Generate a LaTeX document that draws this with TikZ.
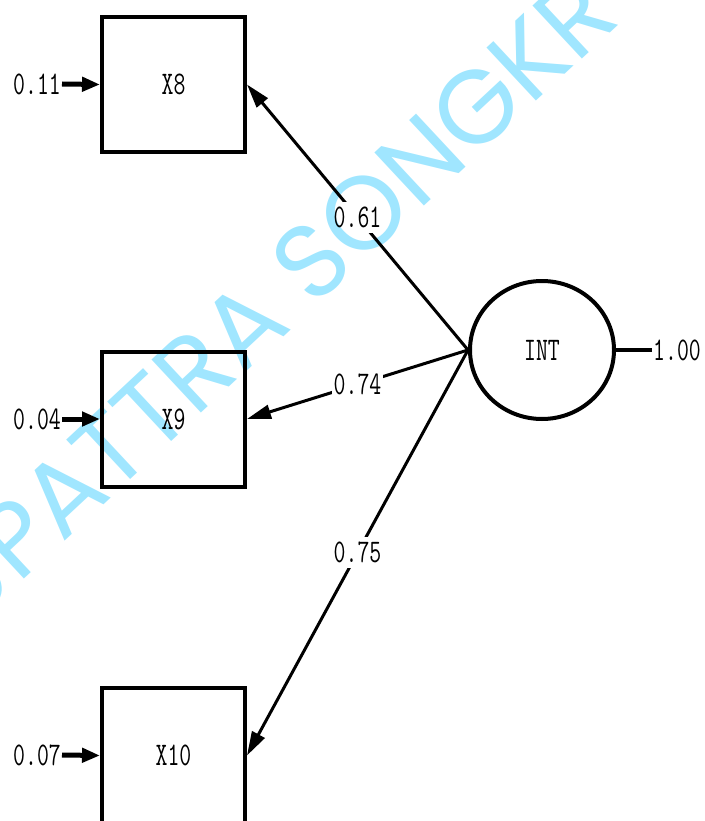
\documentclass[tikz,border=0pt]{standalone}
\usepackage{fontspec}
\newfontfamily\labfont[FakeStretch=0.7]{Latin Modern Mono}
\newfontfamily\wmfont{Poppins}
\usetikzlibrary{shapes.geometric,arrows.meta}
\definecolor{wm}{RGB}{160,230,255}
\begin{document}
\begin{tikzpicture}[x=1pt,y=-1pt,
  lab/.style={font=\labfont\fontsize{33}{36}\selectfont, inner sep=1pt},
  obs/.style={draw, line width=4pt, minimum width=143pt, minimum height=135pt, inner sep=0pt, lab},
  lat/.style={ellipse, draw, line width=4pt, minimum width=144pt, minimum height=138pt, inner sep=0pt, lab},
  load/.style={line width=3pt, -{Triangle[length=24pt,width=14pt]}},
  err/.style={line width=5pt, -{Triangle[length=18pt,width=14pt]}},
  coef/.style={lab, fill=white, inner xsep=2pt, inner ysep=5pt},
  wmark/.style={rotate=43, text=wm, font=\wmfont\fontsize{104}{104}\selectfont, inner sep=0pt}
]
\useasboundingbox (0,0) rectangle (704,821);
\node[obs] (X8) at (173.5,84.5) {X8};
\node[obs] (X9) at (173.5,419) {X9};
\node[obs] (X10) at (173.5,755.5) {X10};
\node[lat] (INT) at (542,350) {INT};
\draw[load] (INT.west) -- node[coef] {0.61} (X8.east);
\draw[load] (INT.west) -- node[coef] {0.74} (X9.east);
\draw[load] (INT.west) -- node[coef] {0.75} (X10.east);
\node[lab, anchor=east] (e8) at (62,84) {0.11};
\node[lab, anchor=east] (e9) at (62,419) {0.04};
\node[lab, anchor=east] (e10) at (62,755) {0.07};
\draw[err] (e8.east) -- (X8.west);
\draw[err] (e9.east) -- (X9.west);
\draw[err] (e10.east) -- (X10.west);
\node[lab, anchor=west] (d) at (652,350) {1.00};
\draw[line width=4pt] (INT.east) -- (d.west);
\begin{scope}[blend mode=multiply]
\node[wmark] (wm) at (270,300) {UPATTRA SONGKR};
\end{scope}
\end{tikzpicture}
\end{document}
